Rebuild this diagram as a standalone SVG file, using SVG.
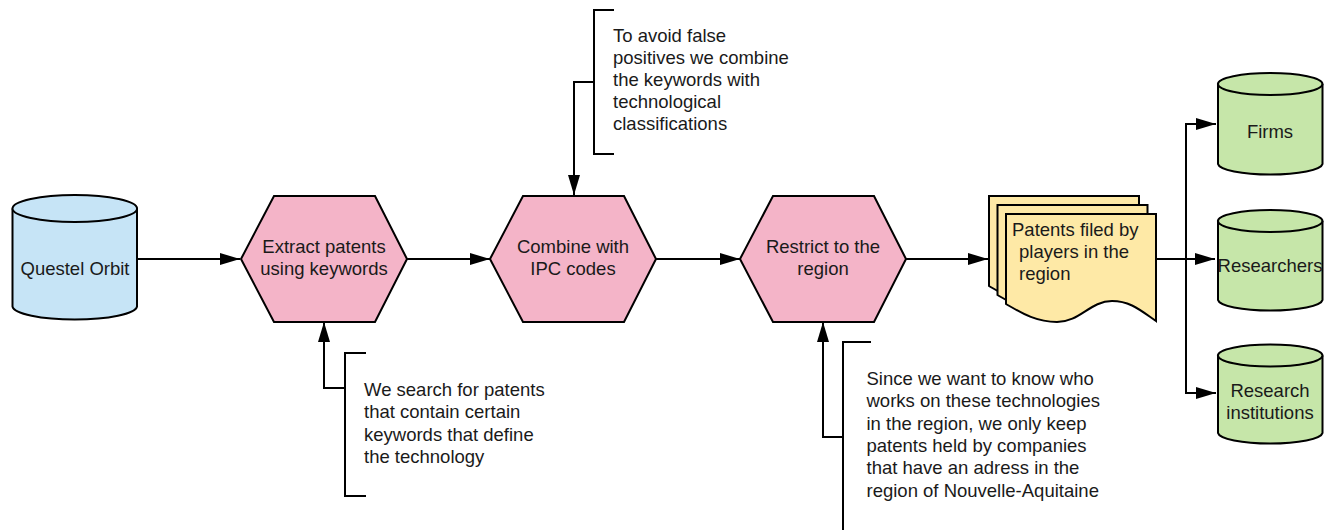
<svg xmlns="http://www.w3.org/2000/svg" width="1333" height="530" viewBox="0 0 1333 530">
<defs>
<marker id="arr" viewBox="0 0 20 12" refX="20" refY="6" markerWidth="20" markerHeight="12" markerUnits="userSpaceOnUse" orient="auto">
<path d="M0,0 L20,6 L0,12 Z" fill="#000"/>
</marker>
</defs>
<style>
text{font-family:"Liberation Sans",Arial,sans-serif;font-size:18.5px;fill:#1a1a1a}
.c{text-anchor:middle}
.sh{stroke:#000;stroke-width:2}
.blue{fill:#c6e4f6}
.pink{fill:#f4b4c8}
.yel{fill:#fee9a6}
.grn{fill:#c6e6a9}
.ln{fill:none;stroke:#000;stroke-width:2}
</style>
<rect width="1333" height="530" fill="#fff"/>

<g id="connectors">
<path class="ln" d="M137,259 H240" marker-end="url(#arr)"/>
<path class="ln" d="M407,259 H490" marker-end="url(#arr)"/>
<path class="ln" d="M656,259 H740" marker-end="url(#arr)"/>
<path class="ln" d="M906,259 H988" marker-end="url(#arr)"/>
<path class="ln" d="M1156,259 H1215" marker-end="url(#arr)"/>
<path class="ln" d="M1186,259 V124 H1216" marker-end="url(#arr)"/>
<path class="ln" d="M1186,259 V393 H1216" marker-end="url(#arr)"/>
<path class="ln" d="M594,82 H574 V195" marker-end="url(#arr)"/>
<path class="ln" d="M345,388 H324 V322" marker-end="url(#arr)"/>
<path class="ln" d="M843,437 H823 V322" marker-end="url(#arr)"/>
</g>

<g id="questel">
<path class="sh blue" d="M12.5,208.5 V306.5 A62.3,13.5 0 0 0 137,306.5 V208.5"/>
<ellipse class="sh blue" cx="74.8" cy="208.5" rx="62.3" ry="13.5"/>
<text class="c" x="75" y="275">Questel Orbit</text>
</g>

<g id="extract">
<path class="sh pink" d="M241,259 L274,196 H375 L407,259 L375,322 H274 Z"/>
<text class="c" x="324" y="252.5">Extract patents</text>
<text class="c" x="324" y="274.5">using keywords</text>
</g>

<g id="combine">
<path class="sh pink" d="M490,259 L523,196 H624 L656,259 L624,322 H523 Z"/>
<text class="c" x="573" y="252.5">Combine with</text>
<text class="c" x="573" y="274.5">IPC codes</text>
</g>

<g id="restrict">
<path class="sh pink" d="M740,259 L773,196 H874 L906,259 L874,322 H773 Z"/>
<text class="c" x="823" y="252.5">Restrict to the</text>
<text class="c" x="823" y="274.5">region</text>
</g>

<g id="patents">
<path class="sh yel" d="M989,196 H1139 V303 C1123,292 1113,283 1095,283 C1073,283 1063,304 1040,304 C1018,304 1003,294 989,286 Z"/>
<path class="sh yel" d="M997.5,205 H1147.5 V312 C1131.5,301 1121.5,292 1103.5,292 C1081.5,292 1071.5,313 1048.5,313 C1026.5,313 1011.5,303 997.5,295 Z"/>
<path class="sh yel" d="M1006,214 H1156 V321 C1140,310 1130,301 1112,301 C1090,301 1080,322 1057,322 C1035,322 1020,312 1006,304 Z"/>
<text x="1012" y="236">Patents filed by</text>
<text x="1019" y="257.5">players in the</text>
<text x="1019" y="279.5">region</text>
</g>

<g id="firms">
<path class="sh grn" d="M1218,84 V164 A52.3,11 0 0 0 1322.5,164 V84"/>
<ellipse class="sh grn" cx="1270.2" cy="84" rx="52.3" ry="11"/>
<text class="c" x="1270" y="138">Firms</text>
</g>

<g id="researchers">
<path class="sh grn" d="M1218,221 V300 A52.3,11 0 0 0 1322.5,300 V221"/>
<ellipse class="sh grn" cx="1270.2" cy="221" rx="52.3" ry="11"/>
<text class="c" x="1270" y="272">Researchers</text>
</g>

<g id="institutions">
<path class="sh grn" d="M1218,355.5 V433 A52.3,11 0 0 0 1322.5,433 V355.5"/>
<ellipse class="sh grn" cx="1270.2" cy="355.5" rx="52.3" ry="11"/>
<text class="c" x="1270" y="397">Research</text>
<text class="c" x="1270" y="419">institutions</text>
</g>

<g id="note-ipc">
<path class="ln" d="M614,10 H594 V154 H614"/>
<text x="613" y="41.5">To avoid false</text>
<text x="613" y="63.5">positives we combine</text>
<text x="613" y="86">the keywords with</text>
<text x="613" y="108">technological</text>
<text x="613" y="130">classifications</text>
</g>

<g id="note-keywords">
<path class="ln" d="M366,353 H345 V496 H366"/>
<text x="364" y="396">We search for patents</text>
<text x="364" y="418.3">that contain certain</text>
<text x="364" y="440.6">keywords that define</text>
<text x="364" y="462.9">the technology</text>
</g>

<g id="note-region">
<path class="ln" d="M871,342 H843 V531"/>
<text x="866.5" y="385">Since we want to know who</text>
<text x="866.5" y="407.3">works on these technologies</text>
<text x="866.5" y="429.6">in the region, we only keep</text>
<text x="866.5" y="451.9">patents held by companies</text>
<text x="866.5" y="474.2">that have an adress in the</text>
<text x="866.5" y="496.5">region of Nouvelle-Aquitaine</text>
</g>
</svg>
